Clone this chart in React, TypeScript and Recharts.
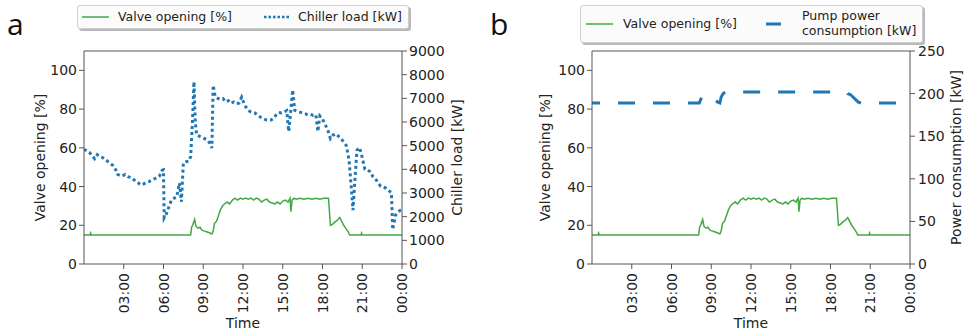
import { LineChart, Line, XAxis, YAxis, Legend, ReferenceLine } from 'recharts';

const font = '"DejaVu Sans", sans-serif';
const green = '#43a843';
const blue = '#1f77b4';
const spine = '#555';

const xTicks = [3, 6, 9, 12, 15, 18, 21, 24];
const xTickLabels = ['03:00', '06:00', '09:00', '12:00', '15:00', '18:00', '21:00', '00:00'];
const valveTicks = [0, 20, 40, 60, 80, 100];
const chillerTicks = [0, 1000, 2000, 3000, 4000, 5000, 6000, 7000, 8000, 9000];
const pumpTicks = [0, 50, 100, 150, 200, 250];

// hours since midnight
const chillerTime = [
  0.0, 0.2, 0.4, 0.6, 0.8, 1.0, 1.2, 1.4, 1.6, 1.8,
  2.0, 2.2, 2.4, 2.5, 2.7, 2.9, 3.1, 3.3, 3.5, 3.7,
  3.9, 4.1, 4.3, 4.5, 4.7, 4.9, 5.1, 5.3, 5.5, 5.7,
  5.9, 6.0, 6.05, 6.2, 6.4, 6.6, 6.8, 7.0, 7.2, 7.35,
  7.5, 7.7, 7.9, 8.05, 8.2, 8.3, 8.4, 8.5, 8.7, 8.9,
  9.1, 9.3, 9.5, 9.65, 9.75, 9.9, 10.1, 10.3, 10.5, 10.7,
  10.9, 11.1, 11.3, 11.5, 11.7, 11.9, 12.1, 12.3, 12.5, 12.7,
  12.9, 13.1, 13.3, 13.5, 13.7, 13.9, 14.1, 14.3, 14.5, 14.7,
  14.9, 15.1, 15.3, 15.45, 15.6, 15.75, 15.9, 16.1, 16.3, 16.5,
  16.7, 16.9, 17.1, 17.3, 17.5, 17.65, 17.8, 18.0, 18.2, 18.4,
  18.6, 18.8, 19.0, 19.2, 19.4, 19.6, 19.8, 20.0, 20.15, 20.3,
  20.45, 20.6, 20.8, 21.0, 21.2, 21.4, 21.6, 21.8, 22.0, 22.2,
  22.4, 22.6, 22.8, 23.0, 23.2, 23.3, 23.5, 23.7, 23.9, 24.0,
];
const chillerLoad = [
  4850, 4780, 4720, 4580, 4450, 4620, 4540, 4500, 4420, 4330,
  4250, 4150, 3980, 3800, 3740, 3720, 3780, 3690, 3660, 3600,
  3480, 3420, 3340, 3380, 3450, 3480, 3540, 3600, 3640, 3720,
  3960, 3980, 1950, 2100, 2400, 2700, 2780, 2840, 3420, 2630,
  4270, 4320, 4340, 4540, 6200, 7700, 6000, 5450, 5400, 5350,
  5300, 5240, 5100, 4900, 7550, 7070, 7000, 6950, 6980, 6850,
  6900, 6790, 6850, 6780, 6800, 7050, 6750, 6550, 6450, 6400,
  6380, 6300, 6210, 6150, 6100, 6080, 6080, 6150, 6300, 6400,
  6380, 6420, 6480, 5600, 6450, 7350, 6500, 6450, 6420, 6380,
  6350, 6300, 6320, 6280, 6300, 5600, 6250, 6120, 5900, 5650,
  5300, 5450, 5500, 5400, 5300, 5150, 5000, 4400, 3400, 2280,
  3600, 4800, 4920, 4500, 4000, 3970, 3900, 3700, 3600, 3420,
  3280, 3250, 3200, 3100, 3020, 1450, 2050, 2200, 2280, 2300,
];

const valveTime = [
  0, 0.45, 0.5, 0.55, 8.05, 8.12, 8.2, 8.35, 8.45, 8.6,
  8.75, 8.9, 9.1, 9.3, 9.5, 9.65, 9.75, 9.85, 10.0, 10.15,
  10.3, 10.45, 10.6, 10.8, 11.0, 11.2, 11.4, 11.6, 11.8, 12.0,
  12.2, 12.4, 12.6, 12.8, 13.0, 13.2, 13.4, 13.6, 13.8, 14.0,
  14.2, 14.4, 14.6, 14.8, 15.0, 15.2, 15.4, 15.55, 15.62, 15.7,
  15.85, 16.0, 16.3, 16.6, 16.9, 17.2, 17.5, 17.8, 18.1, 18.45,
  18.6, 18.75, 18.9, 19.1, 19.3, 19.45, 19.6, 19.8, 19.95, 20.05,
  20.9, 20.95, 21.0, 24.0,
];
const valveOpening = [
  15, 15, 16, 15, 15, 19, 20, 23, 19.5, 18.5,
  19, 17.5, 17, 16.5, 16, 15.5, 17, 21, 22, 25,
  28, 30, 31, 32, 31, 33, 34, 33, 34, 33.5,
  34, 33.5, 34, 33, 34, 33.5, 32, 33, 33.5, 32,
  31.5, 31, 32, 31, 32.5, 33, 32, 34, 27, 33,
  34, 33.5, 34, 33.5, 34, 33.5, 34, 33.5, 34, 34,
  20, 20.5, 21.5, 22.5, 24, 22, 20, 18, 16.5, 15,
  15, 16, 15, 15,
];

const pumpTime = [
  0, 8.1, 8.2, 8.4, 8.6, 8.8, 9.0, 9.3, 9.5, 9.65,
  9.75, 9.9, 10.1, 19.2, 19.3, 19.5, 19.7, 19.9, 20.1, 20.3, 24,
];
const pumpPower = [
  189, 189, 193, 199, 197, 195, 194, 192, 190, 189,
  196, 200, 202, 202, 200, 199, 196, 193, 190, 189, 189,
];

const chillerData = chillerTime.map((h, i) => ({ h, v: chillerLoad[i] }));
const valveData = valveTime.map((h, i) => ({ h, v: valveOpening[i] }));
const pumpData = pumpTime.map((h, i) => ({ h, v: pumpPower[i] }));

const TimeTick = (props: any) => {
  const { x, y, payload } = props;
  const label = xTickLabels[xTicks.indexOf(payload.value)];
  return (
    <text x={x} y={y} transform={`rotate(-90 ${x} ${y})`} textAnchor="end" dy="0.36em"
      fontSize={14} fontFamily={font} fill="#222">
      {label}
    </text>
  );
};

const tickStyle = { fill: '#222', fontSize: 14, fontFamily: font };
const labelStyle = { fill: '#222', fontSize: 14, fontFamily: font, textAnchor: 'middle' as const };

const boxStyle = {
  position: 'relative' as const,
  background: '#fbfbfb',
  border: '1px solid #cfcfcf',
  borderRadius: 3,
  boxShadow: '2px 2px 0 rgba(0,0,0,0.28)',
  fontFamily: font,
  fontSize: 12.5,
  color: '#222',
  boxSizing: 'border-box' as const,
};

const LegendA = () => (
  <div style={{ ...boxStyle, width: 332, height: 24 }}>
    <svg width={332} height={22} style={{ position: 'absolute', left: 0, top: 0 }}>
      <line x1={4} x2={31} y1={11} y2={11} stroke={green} strokeWidth={1.5} />
      <line x1={186} x2={213} y1={11} y2={11} stroke={blue} strokeWidth={2.5} strokeDasharray="2.5 2" />
    </svg>
    <span style={{ position: 'absolute', left: 40, top: 3 }}>Valve opening [%]</span>
    <span style={{ position: 'absolute', left: 220, top: 3 }}>Chiller load [kW]</span>
  </div>
);

const LegendB = () => (
  <div style={{ ...boxStyle, width: 343, height: 38 }}>
    <svg width={343} height={36} style={{ position: 'absolute', left: 0, top: 0 }}>
      <line x1={5} x2={32} y1={18} y2={18} stroke={green} strokeWidth={1.5} />
      <line x1={185} x2={200} y1={18} y2={18} stroke={blue} strokeWidth={3} />
    </svg>
    <span style={{ position: 'absolute', left: 42, top: 10 }}>Valve opening [%]</span>
    <span style={{ position: 'absolute', left: 221, top: 2, lineHeight: '15px' }}>
      Pump power<br />consumption [kW]
    </span>
  </div>
);

const xAxisProps = {
  dataKey: 'h',
  type: 'number' as const,
  domain: [0, 24],
  ticks: xTicks,
  height: 72,
  tickSize: 5,
  tickMargin: 4,
  stroke: spine,
  tick: <TimeTick />,
  interval: 0 as const,
  allowDataOverflow: true,
  allowDuplicatedCategory: false,
};

const timeLabel = { value: 'Time', position: 'insideBottom' as const, offset: 8, style: labelStyle };

const panelLetter = {
  position: 'absolute' as const,
  top: 9,
  fontSize: 30,
  lineHeight: '30px',
  fontFamily: '"Open Sans", sans-serif',
  color: '#111',
};

const App = () => (
  <div style={{ position: 'absolute', left: 0, top: 0, width: 967, height: 336, background: '#fff' }}>
    <div style={{ ...panelLetter, left: 7 }}>a</div>
    <div style={{ ...panelLetter, left: 490 }}>b</div>

    <div style={{ position: 'absolute', left: 0, top: 0 }}>
      <LineChart width={480} height={336} margin={{ top: 51, right: 0, bottom: 0, left: 0 }}>
        <XAxis {...xAxisProps} label={timeLabel} />
        <YAxis yAxisId="left" domain={[0, 110]} ticks={valveTicks} width={84} tickSize={5} tickMargin={2}
          stroke={spine} tick={tickStyle} allowDataOverflow
          label={{ value: 'Valve opening [%]', angle: -90, position: 'center', dx: -2, style: labelStyle }} />
        <YAxis yAxisId="right" orientation="right" domain={[0, 9000]} ticks={chillerTicks} width={78}
          tickSize={5} tickMargin={2} stroke={spine} tick={tickStyle} allowDataOverflow
          label={{ value: 'Chiller load [kW]', angle: -90, position: 'center', dx: 16, style: labelStyle }} />
        <ReferenceLine yAxisId="left" y={110} stroke={spine} />
        <Line data={valveData} yAxisId="left" dataKey="v" name="Valve opening [%]" type="linear"
          stroke={green} strokeWidth={1.5} dot={false} isAnimationActive={false} />
        <Line data={chillerData} yAxisId="right" dataKey="v" name="Chiller load [kW]" type="linear"
          stroke={blue} strokeWidth={3} strokeDasharray="3 3" dot={false} isAnimationActive={false} />
        <Legend layout="horizontal" verticalAlign="middle" align="center" content={<LegendA />}
          wrapperStyle={{ top: 5, left: 77, width: 340, height: 30 }} />
      </LineChart>
    </div>

    <div style={{ position: 'absolute', left: 480, top: 0 }}>
      <LineChart width={487} height={336} margin={{ top: 51, right: 0, bottom: 0, left: 0 }}>
        <XAxis {...xAxisProps} label={timeLabel} />
        <YAxis yAxisId="left" domain={[0, 110]} ticks={valveTicks} width={112} tickSize={5} tickMargin={2}
          stroke={spine} tick={tickStyle} allowDataOverflow
          label={{ value: 'Valve opening [%]', angle: -90, position: 'center', dx: 9, style: labelStyle }} />
        <YAxis yAxisId="right" orientation="right" domain={[0, 250]} ticks={pumpTicks} width={57}
          tickSize={5} tickMargin={3} stroke={spine} tick={tickStyle} allowDataOverflow
          label={{ value: 'Power consumption [kW]', angle: -90, position: 'center', dx: 18, style: labelStyle }} />
        <ReferenceLine yAxisId="left" y={110} stroke={spine} />
        <Line data={valveData} yAxisId="left" dataKey="v" name="Valve opening [%]" type="linear"
          stroke={green} strokeWidth={1.5} dot={false} isAnimationActive={false} />
        <Line data={pumpData} yAxisId="right" dataKey="v" name="Pump power consumption [kW]" type="linear"
          stroke={blue} strokeWidth={3} strokeDasharray="17 18" strokeDashoffset={9} dot={false}
          isAnimationActive={false} />
        <Legend layout="horizontal" verticalAlign="middle" align="center" content={<LegendB />}
          wrapperStyle={{ top: 5, left: 100, width: 350, height: 44 }} />
      </LineChart>
    </div>
  </div>
);

export default App;
